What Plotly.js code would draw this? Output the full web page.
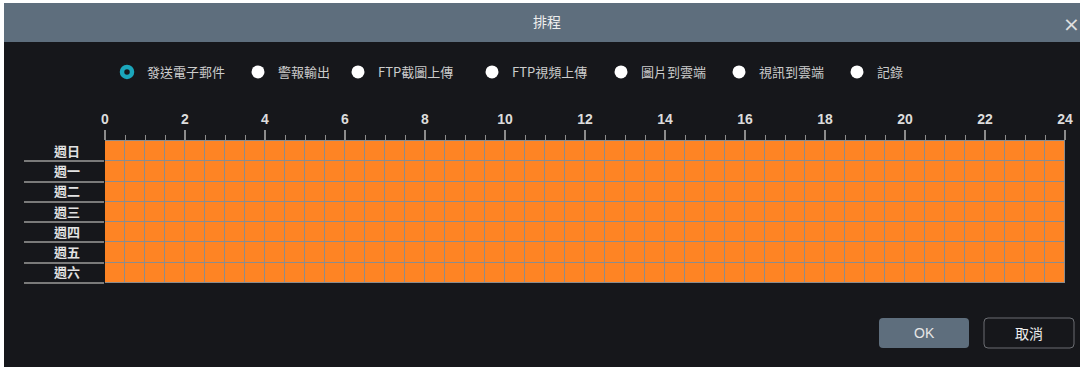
<!DOCTYPE html>
<html>
<head>
<meta charset="utf-8">
<script src="https://cdn.plot.ly/plotly-3.0.1.min.js"></script>
<style>html,body{margin:0;padding:0;background:#fff;}#chart{width:1080px;height:367px;}</style>
</head>
<body>
<div id="chart"></div>
<script>
// ---- data ----
const days = ['週日', '週一', '週二', '週三', '週四', '週五', '週六'];
const scheduleStart = [0, 0, 0, 0, 0, 0, 0];     // hour each day's recording begins
const scheduleEnd = [24, 24, 24, 24, 24, 24, 24]; // hour each day's recording ends
const hourTicks = [0, 2, 4, 6, 8, 10, 12, 14, 16, 18, 20, 22, 24];
const eventTypes = ['發送電子郵件', '警報輸出', 'FTP截圖上傳', 'FTP視頻上傳', '圖片到雲端', '視訊到雲端', '記錄'];
const selectedEvent = '發送電子郵件';
const dialogTitle = '排程';
const buttonLabels = ['OK', '取消'];

// ---- build schedule grid (half-hour slots) ----
const slotHours = 0.5;
const nSlots = Math.round(24 / slotHours);
const slotCenters = [];
for (let k = 0; k < nSlots; k++) slotCenters.push(k * slotHours + slotHours / 2);
const z = days.map((d, i) => slotCenters.map(c =>
  (c - slotHours / 2 >= scheduleStart[i] && c + slotHours / 2 <= scheduleEnd[i]) ? 1 : null));

// ---- layout helpers (pixel -> paper) ----
const L = 105, R = 15, T = 141, B = 84, W = 1080, H = 367;
const pw = W - L - R, ph = H - T - B;
const px = x => (x - L) / pw;
const py = y => (H - B - y) / ph;
function rrect(x0, y0, x1, y1, r) {
  const a = px(x0), b = px(x1), c = py(y0), d = py(y1);
  const rx = r / pw, ry = r / ph;
  return `M${a + rx},${c} L${b - rx},${c} Q${b},${c} ${b},${c - ry} L${b},${d + ry} Q${b},${d} ${b - rx},${d} L${a + rx},${d} Q${a},${d} ${a},${d + ry} L${a},${c - ry} Q${a},${c} ${a + rx},${c} Z`;
}

const grey = '#8c8c8c';
const traces = [{
  type: 'heatmap',
  x: slotCenters, y: days, z: z,
  colorscale: [[0, '#fe8424'], [1, '#fe8424']],
  showscale: false, xgap: 1, ygap: 1,
  hoverinfo: 'skip', showlegend: false
}, {
  // invisible helper on yaxis2 to draw row separators
  type: 'scatter', x: [null], y: [null], yaxis: 'y2', showlegend: false, hoverinfo: 'skip'
}];

// legend (radio buttons): one legend per event type, placed along the row
const radioX = [127, 258, 358, 492, 621, 739, 857];
const legends = {};
eventTypes.forEach((name, i) => {
  const sel = name === selectedEvent;
  const key = i === 0 ? 'legend' : 'legend' + (i + 1);
  traces.push({
    type: 'scatter', mode: 'markers', x: [null], y: [null], name: name,
    legend: key, showlegend: true,
    marker: sel ? {size: 10, color: '#16171b', line: {color: '#1ba6bb', width: 4.5}}
                : {size: 13, color: '#ffffff', line: {width: 0}},
    hoverinfo: 'skip'
  });
  legends[key] = {
    orientation: 'h', xref: 'container', yref: 'container',
    x: (radioX[i] - 20) / W, xanchor: 'left', y: 1 - 72 / H, yanchor: 'middle',
    bgcolor: 'rgba(0,0,0,0)', itemwidth: 30,
    font: {size: 13, color: '#cccccc', family: '"Noto Sans CJK TC", "Liberation Sans", sans-serif'},
    itemclick: false, itemdoubleclick: false
  };
});

const layout = Object.assign({
  width: W, height: H,
  margin: {l: L, r: R, t: T, b: B},
  paper_bgcolor: '#16171b',
  plot_bgcolor: grey,
  font: {family: '"Noto Sans CJK TC", "Liberation Sans", sans-serif', color: '#d8d8d8', size: 13},
  title: {text: dialogTitle, x: 547 / W, xref: 'container', xanchor: 'center',
          y: 1 - 22 / H, yref: 'container', yanchor: 'middle',
          font: {size: 14, color: '#eeeeee', family: '"Noto Sans CJK TC", sans-serif'}},
  xaxis: {
    side: 'top', range: [0, 24], tickmode: 'array', tickvals: hourTicks,
    ticks: 'outside', ticklen: 10, tickwidth: 1.5, tickcolor: grey,
    showgrid: false, zeroline: false, showline: true, linecolor: grey, linewidth: 1,
    tickfont: {family: '"Liberation Sans", Arial, sans-serif', size: 14, color: '#dcdcdc', weight: 'bold'},
    minor: {tickmode: 'linear', tick0: 0, dtick: 0.5, ticks: 'outside', ticklen: 5, tickwidth: 1, tickcolor: grey, showgrid: false},
    fixedrange: true
  },
  yaxis: {
    type: 'category', range: [6.5, -0.5], ticks: '', showgrid: false, zeroline: false,
    ticklabelstandoff: 24,
    tickfont: {size: 13, color: '#e2e2e2', family: '"Noto Sans CJK TC", sans-serif', weight: 'bold'},
    fixedrange: true
  },
  yaxis2: {
    overlaying: 'y', anchor: 'x', side: 'left', range: [6.5, -0.5],
    tickmode: 'array', tickvals: [0.5, 1.5, 2.5, 3.5, 4.5, 5.5, 6.5],
    ticks: 'outside', ticklen: 80, tickwidth: 2, tickcolor: '#7a7a7a',
    showticklabels: false, showgrid: false, zeroline: false, fixedrange: true
  },
  showlegend: true,
  shapes: [
    {type: 'rect', xref: 'paper', yref: 'paper', x0: px(0), x1: px(4), y0: py(0), y1: py(367),
     fillcolor: '#ffffff', line: {width: 0}, layer: 'below'},
    {type: 'rect', xref: 'paper', yref: 'paper', x0: px(0), x1: px(1080), y0: py(0), y1: py(3),
     fillcolor: '#ffffff', line: {width: 0}, layer: 'below'},
    {type: 'rect', xref: 'paper', yref: 'paper', x0: px(4), x1: px(1080), y0: py(3), y1: py(42),
     fillcolor: '#5e6e7d', line: {width: 0}, layer: 'below'},
    {type: 'path', xref: 'paper', yref: 'paper', path: rrect(879, 318, 969, 348, 4),
     fillcolor: '#5e6e7d', line: {width: 0}, layer: 'below'},
    {type: 'path', xref: 'paper', yref: 'paper', path: rrect(984, 318, 1074, 348, 4),
     fillcolor: 'rgba(0,0,0,0)', line: {width: 1, color: '#6b6d72'}, layer: 'below'}
  ],
  annotations: [
    {xref: 'paper', yref: 'paper', x: px(1071), y: py(24), text: '×', showarrow: false,
     font: {size: 20, color: '#e0e0e0', family: '"DejaVu Sans", sans-serif'}, xanchor: 'center', yanchor: 'middle'},
    {xref: 'paper', yref: 'paper', x: px(924), y: py(333), text: buttonLabels[0], showarrow: false,
     font: {size: 14, color: '#e6e6e6', family: '"Liberation Sans", Arial, sans-serif'}, xanchor: 'center', yanchor: 'middle'},
    {xref: 'paper', yref: 'paper', x: px(1029), y: py(333), text: buttonLabels[1], showarrow: false,
     font: {size: 14, color: '#eeeeee', family: '"Noto Sans CJK TC", sans-serif'}, xanchor: 'center', yanchor: 'middle'}
  ]
}, legends);

Plotly.newPlot('chart', traces, layout, {displayModeBar: false, staticPlot: true});
</script>
</body>
</html>
